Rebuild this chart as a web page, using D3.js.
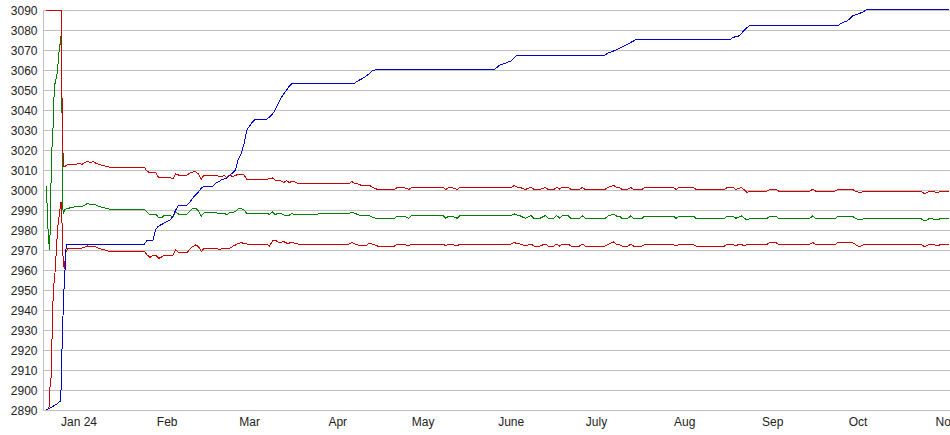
<!DOCTYPE html>
<html><head><meta charset="utf-8">
<script src="https://cdn.jsdelivr.net/npm/d3@7"></script>
<style>
body{margin:0;background:#fff;overflow:hidden;}
svg{display:block;font-family:"Liberation Sans",Arial,sans-serif;}
</style>
</head><body>
<svg id="chart" width="950" height="435"></svg>
<script>
// ---------- DATA ----------
const yTicks = [2890,2900,2910,2920,2930,2940,2950,2960,2970,2980,2990,3000,3010,3020,3030,3040,3050,3060,3070,3080,3090];
const monthTicks = ["2024-01-01","2024-02-01","2024-03-01","2024-04-01","2024-05-01","2024-06-01","2024-07-01","2024-08-01","2024-09-01","2024-10-01","2024-11-01"];
const monthLabels = ["Jan 24","Feb","Mar","Apr","May","June","July","Aug","Sep","Oct","Nov"];

// early (intra-day) part of each series
const upperEarlyDates = ["2023-12-20T12:00","2023-12-25T16:00","2023-12-25T18:00","2023-12-25T23:00","2023-12-26T05:00","2023-12-26T11:00","2023-12-27T00:00"];
const upperEarlyVals  = [3090,3090,3077,3050,3030,3011.5,3011.7];

const midEarlyDates = ["2023-12-20T09:00","2023-12-20T16:00","2023-12-21T05:00","2023-12-21T16:00","2023-12-21T20:00","2023-12-22T02:00","2023-12-22T10:00","2023-12-22T19:00","2023-12-23T03:00","2023-12-23T12:00","2023-12-23T20:00","2023-12-24T04:00","2023-12-24T13:00","2023-12-24T21:00","2023-12-25T06:00","2023-12-25T14:00","2023-12-25T20:00","2023-12-26T09:00","2023-12-27T00:00"];
const midEarlyVals  = [3002,2996,2976,2970,2980,3000,3020,3028,3045,3053,3055,3057,3062,3068,3072,3077,3063,2988,2990.3];

const lowerEarlyDates = ["2023-12-20T12:00","2023-12-21T05:00","2023-12-21T13:00","2023-12-21T16:00","2023-12-22T03:00","2023-12-22T10:00","2023-12-22T20:00","2023-12-23T07:00","2023-12-23T16:00","2023-12-24T00:00","2023-12-24T13:00","2023-12-25T10:00","2023-12-25T16:00","2023-12-26T03:00","2023-12-26T11:00","2023-12-26T20:00","2023-12-27T08:00"];
const lowerEarlyVals  = [2890,2890.5,2892,2900,2905,2921,2944,2956,2960,2970,2982,2992,2994,2980,2962,2961,2969];

// band part (shared dates)
const bandDates = ["2023-12-28","2023-12-31","2024-01-01","2024-01-02","2024-01-03","2024-01-04","2024-01-05","2024-01-06","2024-01-07","2024-01-08","2024-01-10","2024-01-12","2024-01-24","2024-01-25","2024-01-26","2024-01-27","2024-01-28","2024-01-29","2024-01-30","2024-01-31","2024-02-02","2024-02-03","2024-02-04","2024-02-05","2024-02-08","2024-02-09","2024-02-10","2024-02-11","2024-02-12","2024-02-13","2024-02-14","2024-02-18","2024-02-19","2024-02-20","2024-02-21","2024-02-22","2024-02-23","2024-02-24","2024-02-25","2024-02-26","2024-02-27","2024-02-28","2024-02-29","2024-03-07","2024-03-08","2024-03-09","2024-03-10","2024-03-11","2024-03-12","2024-03-13","2024-03-14","2024-03-15","2024-03-16","2024-03-17","2024-03-18","2024-04-05","2024-04-06","2024-04-07","2024-04-08","2024-04-09","2024-04-11","2024-04-12","2024-04-13","2024-04-14","2024-04-15","2024-04-21","2024-04-22","2024-04-24","2024-04-25","2024-04-26","2024-04-27","2024-05-08","2024-05-09","2024-05-10","2024-05-11","2024-05-12","2024-05-13","2024-05-14","2024-06-01","2024-06-02","2024-06-03","2024-06-04","2024-06-05","2024-06-06","2024-06-07","2024-06-08","2024-06-09","2024-06-11","2024-06-12","2024-06-13","2024-06-14","2024-06-16","2024-06-17","2024-06-18","2024-06-19","2024-06-21","2024-06-22","2024-06-25","2024-06-26","2024-06-27","2024-07-04","2024-07-05","2024-07-07","2024-07-08","2024-07-09","2024-07-10","2024-07-12","2024-07-13","2024-07-14","2024-07-17","2024-07-18","2024-07-28","2024-07-29","2024-07-30","2024-08-04","2024-08-05","2024-08-15","2024-08-16","2024-08-18","2024-08-19","2024-08-20","2024-08-21","2024-08-22","2024-08-23","2024-08-24","2024-08-30","2024-08-31","2024-09-02","2024-09-03","2024-09-14","2024-09-15","2024-09-16","2024-09-23","2024-09-24","2024-09-29","2024-09-30","2024-10-01","2024-10-02","2024-10-03","2024-10-23","2024-10-24","2024-10-25","2024-10-26","2024-10-28","2024-10-29","2024-10-30","2024-11-02"];
const upperVals = [3012.8,3012.8,3013.3,3012.8,3013.8,3014.2,3013.7,3014.2,3013.3,3012.8,3012,3011.3,3011.3,3009.2,3008.7,3008.7,3008.5,3006.3,3006.3,3006.3,3006.3,3005.5,3008,3007.5,3007.5,3008.5,3009,3009.2,3008,3005.5,3007.5,3007.5,3007,3006.7,3007.2,3006.3,3007.5,3006.7,3007.2,3008,3008,3007.5,3005.3,3005.3,3005.7,3006,3005,3004.7,3004.5,3003.7,3004.7,3003.7,3004.5,3004,3003.3,3003.3,3004.2,3003.3,3003,3002.5,3002.5,3002.5,3001.5,3000.8,3000.3,3000.3,3001.3,3001.3,3000.8,3000.3,3001.3,3001.3,3000.3,3001.3,3001.3,3000.8,3000.3,3001.3,3001.3,3002.2,3001.5,3001.3,3000.8,3000.3,3000.8,3001.3,3000.3,3000.3,3000.8,3001.3,3000.3,3000.3,3001.3,3000.5,3001.3,3001.3,3000.3,3000.3,3001.3,3000.3,3000.3,3001.3,3002.3,3001.3,3001.3,3000.3,3000.3,3001.3,3000.3,3000.3,3001.3,3001.3,3000.3,3001.3,3001.3,3000.3,3000.3,3001.3,3001.3,3000.3,3000.8,3001.3,3000,2998.7,2999.5,2999.5,3000.3,3000.3,2999.5,2999.5,3000.3,2999.5,2999.5,3000.3,3000.3,2999.5,2999,2998.7,2999.5,2999.5,2998.5,2998.5,2999.5,2999,2998.5,2999.5,2999.5];
const midVals = [2990.8,2991.7,2991.7,2991.5,2992.5,2993.3,2992.5,2993,2992.5,2991.7,2991,2990.3,2990.3,2988.7,2987.5,2988,2988,2986.2,2986,2987.3,2987.3,2986.3,2989,2988,2988,2989.5,2990.8,2991,2989.5,2987,2988.7,2988.7,2988.3,2988,2988.3,2987.7,2988.7,2988.7,2989.3,2990.5,2990.8,2990,2988.3,2988.3,2987.8,2989.2,2987.5,2988.5,2988.2,2987.5,2987,2987.5,2988.3,2987.5,2987.8,2988.3,2989,2988.3,2987.8,2987.3,2987.5,2987.3,2986.5,2986,2985.8,2985.8,2987,2987,2986.5,2985.8,2987.2,2987.2,2985.8,2987,2987,2986.5,2985.8,2987.2,2987.2,2988.1,2987.5,2987.2,2986.5,2985.8,2986.5,2987.2,2985.8,2985.8,2986.5,2987.2,2985.8,2985.8,2987.2,2986,2987.2,2987.2,2985.8,2985.8,2987.2,2985.8,2985.8,2987,2987.8,2987,2987,2985.8,2985.8,2987,2985.8,2985.8,2987,2987,2985.8,2987,2987,2985.8,2985.8,2987,2987,2985.8,2986.5,2987,2985.8,2985,2985.8,2985.8,2987,2987,2985.8,2985.8,2987,2985.8,2985.8,2987,2987,2985.8,2985.3,2985,2985.8,2985.8,2984.7,2984.7,2985.8,2985.3,2985,2985.8,2985.8];
const lowerVals = [2970.8,2970.8,2971,2971,2971.5,2972,2971.5,2972,2971.5,2970.8,2970,2969.2,2969.2,2967.5,2966.3,2967.5,2967.5,2965.8,2966.5,2967.5,2967.5,2967.5,2970,2968.7,2968.7,2970.5,2971.7,2972.5,2971.7,2969.2,2970.8,2970.8,2970.5,2970.5,2970.8,2970.8,2970.8,2971.8,2972.5,2973.3,2973.7,2973.3,2973,2973,2972,2974.5,2975,2974,2973.8,2974.2,2973.5,2973.5,2974,2973.3,2973,2973,2973.8,2973,2972.5,2972,2972.2,2973.5,2973,2972.5,2972,2972,2973,2973,2972.5,2972,2973,2973,2972,2973,2973,2972.5,2972,2973,2973,2973.8,2973.2,2973,2972.5,2972,2972.5,2973,2972,2972,2972.5,2973,2972,2972,2973,2972,2973,2973,2972,2972,2973,2972,2972,2972.8,2974,2972.8,2972.8,2972,2972,2972.8,2972,2972,2972.8,2972.8,2972,2972.8,2972.8,2972,2972,2972.8,2972.8,2972,2972.8,2972.8,2972,2972.8,2972.8,2972.8,2973.8,2973.8,2972.8,2972.8,2973.8,2972.8,2972.8,2973.8,2973.8,2972.8,2972,2972,2972.8,2972.8,2972,2972,2972.8,2972.5,2972,2972.8,2972.8];

const blueDates = ["2023-12-20T09:00","2023-12-21T22:00","2023-12-24T17:00","2023-12-25T10:00","2023-12-25T18:00","2023-12-26T00:00","2023-12-26T09:00","2023-12-26T20:00","2023-12-27T04:00","2023-12-27T08:00","2023-12-27T17:00","2024-01-24","2024-01-25","2024-01-27","2024-01-28","2024-01-29","2024-02-02","2024-02-03","2024-02-04","2024-02-05","2024-02-08","2024-02-09","2024-02-10","2024-02-11","2024-02-12","2024-02-13","2024-02-14","2024-02-17","2024-02-18","2024-02-19","2024-02-20","2024-02-22","2024-02-23","2024-02-24","2024-02-25","2024-02-26","2024-02-27","2024-02-28","2024-02-29","2024-03-01","2024-03-02","2024-03-03","2024-03-07","2024-03-08","2024-03-09","2024-03-10","2024-03-11","2024-03-12","2024-03-13","2024-03-14","2024-03-15","2024-03-16","2024-04-07","2024-04-08","2024-04-10","2024-04-12","2024-04-13","2024-04-15","2024-05-26","2024-05-27","2024-05-28","2024-05-30","2024-05-31","2024-06-01","2024-06-02","2024-06-03","2024-07-04","2024-07-05","2024-07-08","2024-07-10","2024-07-12","2024-07-14","2024-07-15","2024-08-17","2024-08-18","2024-08-20","2024-08-21","2024-08-22","2024-08-23","2024-08-24","2024-09-24","2024-09-25","2024-09-27","2024-09-28","2024-09-29","2024-10-01","2024-10-03","2024-10-04","2024-11-02"];
const blueVals = [2890,2891,2893.5,2894.5,2902,2920,2938,2955,2962,2970,2973,2973,2975,2975,2980.5,2982,2985,2986.7,2990,2992.5,2992.5,2994,2996,2997.5,2999,3001,3001.7,3001.7,3003.3,3004,3005,3006,3007.5,3008.5,3010,3015.5,3018,3023,3030,3032,3034,3035.5,3035.5,3036.5,3038,3040,3043,3046,3048,3050,3052,3053.5,3053.5,3054.5,3056,3058,3059.5,3060.3,3060.3,3061.3,3062.5,3063.3,3064,3064.5,3066,3067.5,3067.5,3068.5,3070,3071.5,3073,3074.5,3075.3,3075.3,3076.3,3077,3078.3,3080,3081.3,3082.3,3082.3,3083.3,3084.5,3085.5,3087,3088,3089.2,3090.3,3090.3];

// ---------- CHART ----------
const parseD = s => new Date(s.length === 10 ? s + "T00:00" : s);
const zip = (ds, vs) => ds.map((d, i) => [parseD(d), vs[i]]);

const svg = d3.select("#chart");
const mLeft = 43.5, mRight = 950.5, mTop = 10, mBottom = 410;

const x = d3.scaleTime()
  .domain([parseD("2023-12-19T12:00"), parseD("2024-11-02T12:00")])
  .range([mLeft, mRight]);
const y = d3.scaleLinear().domain([2890, 3090]).range([mBottom, mTop]);

// grid
svg.append("g").selectAll("line").data(yTicks).join("line")
  .attr("x1", mLeft).attr("x2", 950)
  .attr("y1", d => Math.round(y(d)) + 0.5).attr("y2", d => Math.round(y(d)) + 0.5)
  .attr("stroke", "#c0c0c0").attr("stroke-width", 1);

// y labels
svg.append("g").selectAll("text").data(yTicks).join("text")
  .attr("x", 37.5).attr("y", d => y(d) + 4.5)
  .attr("text-anchor", "end").attr("font-size", 12).attr("fill", "#222")
  .text(d => d);

// x labels
svg.append("g").selectAll("text").data(monthTicks).join("text")
  .attr("x", d => x(parseD(d))).attr("y", 426)
  .attr("text-anchor", "middle").attr("font-size", 12).attr("fill", "#222")
  .text((d, i) => monthLabels[i]);

const line = d3.line().x(d => x(d[0])).y(d => y(d[1]));
const g = svg.append("g").attr("fill", "none").attr("stroke-width", 1)
  .attr("shape-rendering", "crispEdges");

const midSeries = zip(midEarlyDates, midEarlyVals).concat(zip(bandDates, midVals));
const lowerSeries = zip(lowerEarlyDates, lowerEarlyVals).concat(zip(bandDates, lowerVals));
const upperSeries = zip(upperEarlyDates, upperEarlyVals).concat(zip(bandDates, upperVals));
const blueSeries = zip(blueDates, blueVals);

g.append("path").attr("d", line(midSeries)).attr("stroke", "#008000");
g.append("path").attr("d", line(lowerSeries)).attr("stroke", "#cc0000");
g.append("path").attr("d", line(upperSeries)).attr("stroke", "#cc0000");
g.append("path").attr("d", line(blueSeries)).attr("stroke", "#0000cc");

// left axis line (on top)
svg.append("line").attr("x1", mLeft).attr("x2", mLeft)
  .attr("y1", mTop).attr("y2", mBottom + 1)
  .attr("stroke", "#c0c0c0").attr("shape-rendering", "crispEdges");
</script>
</body></html>
